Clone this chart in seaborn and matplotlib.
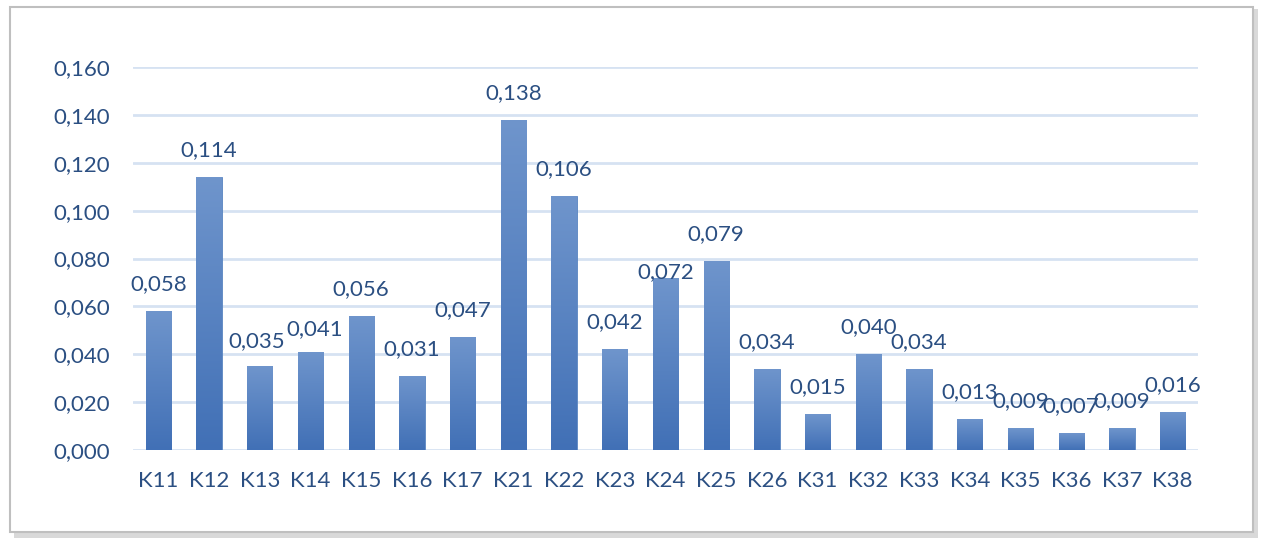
import numpy as np
import matplotlib
matplotlib.use("Agg")
import matplotlib.pyplot as plt
import matplotlib.patches as mpatches
from matplotlib.colors import LinearSegmentedColormap
import pandas as pd
import seaborn as sns

categories = ["K11", "K12", "K13", "K14", "K15", "K16", "K17",
              "K21", "K22", "K23", "K24", "K25", "K26",
              "K31", "K32", "K33", "K34", "K35", "K36", "K37", "K38"]
values = [0.058, 0.114, 0.035, 0.041, 0.056, 0.031, 0.047,
          0.138, 0.106, 0.042, 0.072, 0.079, 0.034,
          0.015, 0.040, 0.034, 0.013, 0.009, 0.007, 0.009, 0.016]
yticks = [0.0, 0.02, 0.04, 0.06, 0.08, 0.10, 0.12, 0.14, 0.16]

# label nudges (points), Excel moved a couple to avoid overlap
label_offset = {"K13": (-2, 18), "K14": (3, 16.5), "K24": (0, 4.3)}
default_offset = (0, 19.4)

df = pd.DataFrame({"cat": categories, "val": values})

sns.set_theme(style="white")
plt.rcParams['font.family'] = ['Lato', 'DejaVu Sans']
txtcol = "#2B4F82"

fig = plt.figure(figsize=(12.61, 5.40), dpi=100)
fig.patch.set_facecolor("white")

# outer frame with soft shadow
fig.patches.append(mpatches.Rectangle((14 / 1261, 1 - 538 / 540), 1244 / 1261, 529 / 540,
                                      transform=fig.transFigure, facecolor="#D9D9D9",
                                      edgecolor="none", zorder=-3))
fig.patches.append(mpatches.Rectangle((10 / 1261, 1 - 532 / 540), 1243 / 1261, 525 / 540,
                                      transform=fig.transFigure, facecolor="white",
                                      edgecolor="#BFBFBF", linewidth=1.5, zorder=-2))

ax = fig.add_axes([133 / 1261, 1 - 450 / 540, 1065 / 1261, 383 / 540])
ax.set_facecolor("none")

sns.barplot(data=df, x="cat", y="val", color="#4F7FC0", width=0.5, ax=ax,
            saturation=1, zorder=3)

# vertical gradient per bar
cmap = LinearSegmentedColormap.from_list("bg", ["#4170B6", "#6F95CC"])
grad = np.linspace(0, 1, 256).reshape(-1, 1)
for p in ax.patches:
    x0, y0 = p.get_x(), p.get_y()
    w, h = p.get_width(), p.get_height()
    im = ax.imshow(grad, cmap=cmap, origin="lower", aspect="auto",
                   extent=[x0, x0 + w, y0, y0 + h], zorder=3.5)
    im.set_clip_path(p)
    p.set_edgecolor("#5B86C2")
    p.set_linewidth(0.6)

ax.set_xlim(-0.5, len(categories) - 0.5)
ax.set_ylim(0, 0.16)
ax.set_yticks(yticks)
ax.set_yticklabels([f"{t:.3f}".replace(".", ",") for t in yticks])
ax.yaxis.grid(True, color="#D6E2F2", linewidth=2, zorder=0)
ax.set_axisbelow(True)
for s in ax.spines.values():
    s.set_visible(False)
ax.tick_params(axis="both", length=0, labelsize=16, labelcolor=txtcol)
ax.tick_params(axis="y", pad=16.5)
ax.tick_params(axis="x", pad=15)
ax.set_xlabel("")
ax.set_ylabel("")

for i, (c, v) in enumerate(zip(categories, values)):
    off = label_offset.get(c, default_offset)
    ax.annotate(f"{v:.3f}".replace(".", ","), xy=(i, v), xytext=off,
                textcoords="offset points", ha="center", va="center",
                fontsize=16, color=txtcol, annotation_clip=False, zorder=5)

fig.savefig("out.png", dpi=100, facecolor="white")
